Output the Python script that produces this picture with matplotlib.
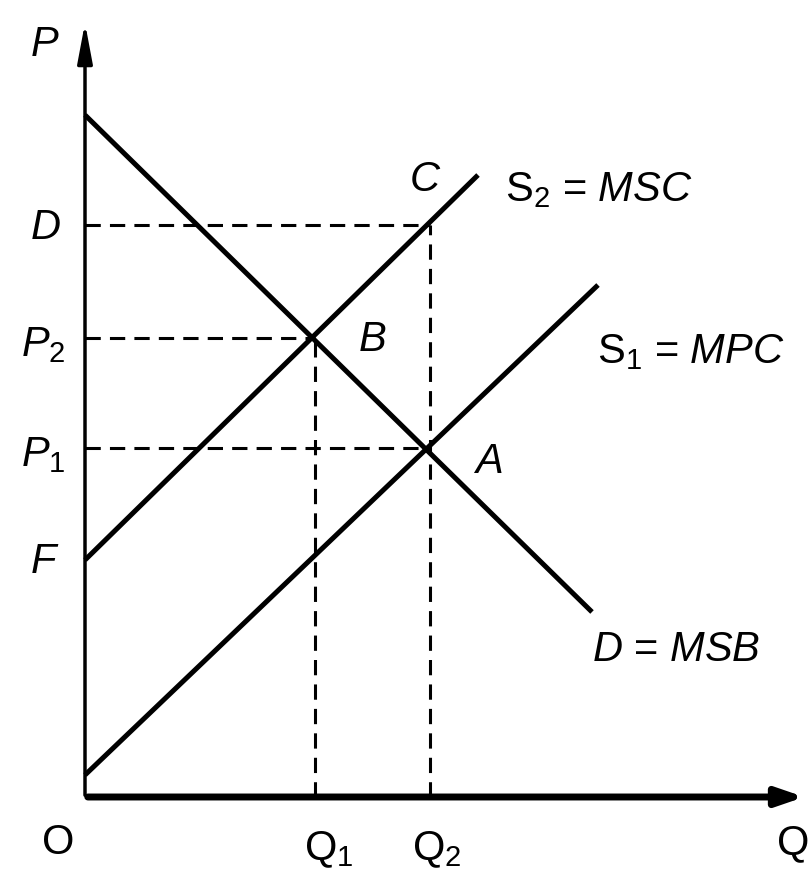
import matplotlib.pyplot as plt
import matplotlib.font_manager as fm

names = {f.name for f in fm.fontManager.ttflist}
fam = "Liberation Sans Narrow" if "Liberation Sans Narrow" in names else "Liberation Sans"
plt.rcParams["font.family"] = [fam, "DejaVu Sans"]
plt.rcParams["mathtext.fontset"] = "custom"
plt.rcParams["mathtext.rm"] = fam
plt.rcParams["mathtext.it"] = fam + ":italic"

# curves (Q, P) endpoints
demand_q = [0, 5.07]
demand_p = [6.82, 1.85]
mpc_q = [0, 5.13]
mpc_p = [0.22, 5.12]
msc_q = [0, 3.93]
msc_p = [2.37, 6.22]

# equilibrium levels
Q1, Q2 = 2.30, 3.45
P1, P2, PD = 3.49, 4.59, 5.72

fig = plt.figure(figsize=(8.11, 8.83), dpi=100)
ax = fig.add_axes([0, 0, 1, 1])
ax.set_xlim(-0.85, 7.26)
ax.set_ylim(-0.86, 7.97)
ax.axis("off")

# axes with arrows
ax.annotate("", xy=(7.22, 0), xytext=(0, 0),
            arrowprops=dict(arrowstyle="-|>,head_length=1.6,head_width=0.55", lw=5, color="black"))
ax.annotate("", xy=(0, 7.77), xytext=(0, -0.01),
            arrowprops=dict(arrowstyle="-|>,head_length=2.4,head_width=0.45", lw=2.5, color="black"))

ax.plot(demand_q, demand_p, color="black", lw=3.6, solid_capstyle="butt")
ax.plot(mpc_q, mpc_p, color="black", lw=3.6, solid_capstyle="butt")
ax.plot(msc_q, msc_p, color="black", lw=3.6, solid_capstyle="butt")

dash = dict(color="black", lw=2.2, dashes=(5, 3))
ax.plot([0, Q2], [PD, PD], **dash)
ax.plot([0, Q1], [P2, P2], **dash)
ax.plot([0, Q2], [P1, P1], **dash)
ax.plot([Q1, Q1], [0, P2], **dash)
ax.plot([Q2, Q2], [0, PD], **dash)

fs = 30
kw = dict(fontsize=fs, ha="center", va="center")
ax.text(-0.40, 7.52, "$P$", **kw)
ax.text(-0.40, PD - 0.03, "$D$", **kw)
ax.text(-0.42, P2 - 0.07, "$P_2$", **kw)
ax.text(-0.42, P1 - 0.07, "$P_1$", **kw)
ax.text(-0.40, 2.35, "$F$", **kw)
ax.text(-0.27, -0.46, "O", **kw)
ax.text(Q1 + 0.14, -0.53, "Q$_1$", **kw)
ax.text(Q2 + 0.07, -0.53, "Q$_2$", **kw)
ax.text(7.08, -0.46, "Q", **kw)
ax.text(3.40, 6.17, "$C$", **kw)
ax.text(2.87, 4.57, "$B$", **kw)
ax.text(4.03, 3.35, "$A$", **kw)
ax.text(4.20, 6.07, "S$_2$ = $MSC$", fontsize=fs, ha="left", va="center")
ax.text(5.12, 4.45, "S$_1$ = $MPC$", fontsize=fs, ha="left", va="center")
ax.text(5.07, 1.47, "$D$ = $MSB$", fontsize=fs, ha="left", va="center")

fig.savefig("out.png", dpi=100)
